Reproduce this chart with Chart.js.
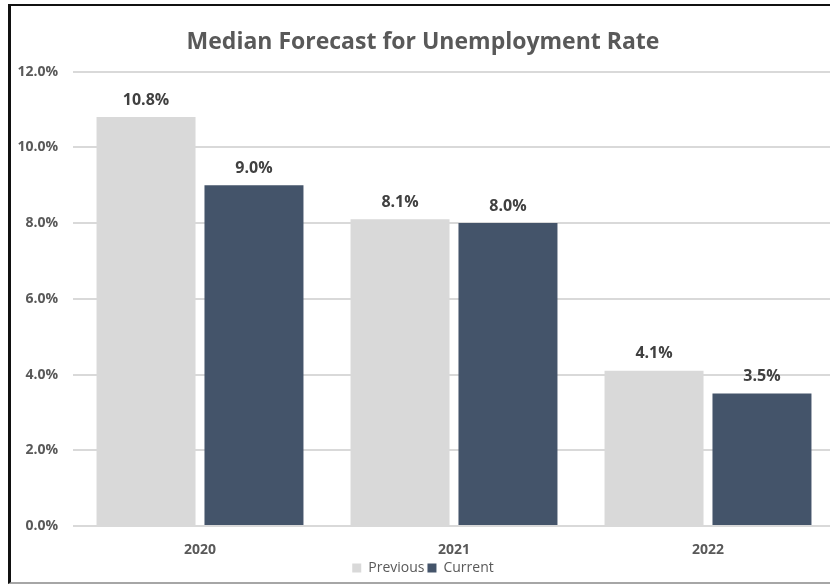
<!DOCTYPE html>
<html lang="en">

<head>
    <meta charset="UTF-8">
    <title>Median Forecast for Unemployment Rate</title>
    <style>
        body { margin: 0; overflow: hidden; background: #fff; }
        #frame {
            position: absolute; left: 8px; top: 4px;
            width: 840px; height: 576px; overflow: hidden;
            border-left: 3px solid #111; border-top: 2px solid #111; border-bottom: 2px solid #a6a6a6;
        }
    </style>
</head>

<body>
    <div id="frame">
        <canvas id="myChart" width="840" height="579"></canvas>
    </div>

    <script src="https://cdn.jsdelivr.net/npm/chart.js"></script>
    <script>
        // data
        const v_years = ['2020', '2021', '2022'];
        const v_previous = [10.8, 8.1, 4.1];
        const v_current = [9.0, 8.0, 3.5];
        const v_yTicks = [0, 2, 4, 6, 8, 10, 12];

        const v_text = '#595959';

        // value labels above each bar
        const labelPlugin = {
            id: 'barLabels',
            afterDatasetsDraw(chart) {
                const ctx = chart.ctx;
                ctx.save();
                ctx.font = 'bold 16px "Open Sans"';
                ctx.fillStyle = '#404040';
                ctx.textAlign = 'center';
                ctx.textBaseline = 'middle';
                chart.data.datasets.forEach((ds, i) => {
                    chart.getDatasetMeta(i).data.forEach((bar, k) => {
                        ctx.fillText(ds.data[k].toFixed(1) + '%', bar.x, bar.y - 17);
                    });
                });
                ctx.restore();
            }
        };

        const ctx = document.querySelector('#myChart');
        new Chart(ctx, {
            type: 'bar',
            data: {
                labels: v_years,
                datasets: [{
                    label: 'Previous',
                    data: v_previous,
                    backgroundColor: '#d9d9d9',
                    categoryPercentage: 0.85,
                    barPercentage: 0.917
                }, {
                    label: 'Current',
                    data: v_current,
                    backgroundColor: '#44546a',
                    categoryPercentage: 0.85,
                    barPercentage: 0.917
                }]
            },
            options: {
                responsive: false,
                animation: false,
                layout: { padding: { left: 0, right: 16, top: 0, bottom: 0 } },
                plugins: {
                    title: {
                        display: true,
                        text: 'Median Forecast for Unemployment Rate',
                        color: v_text,
                        font: { family: '"Open Sans"', size: 23, weight: 'bold' },
                        padding: { top: 23, bottom: 15 }
                    },
                    legend: {
                        position: 'bottom',
                        labels: {
                            color: v_text,
                            boxWidth: 9,
                            boxHeight: 9,
                            padding: 3,
                            font: { family: '"Open Sans"', size: 14 }
                        }
                    },
                    tooltip: { enabled: false }
                },
                scales: {
                    x: {
                        grid: { display: false, drawTicks: false },
                        border: { display: false },
                        afterFit: (axis) => { axis.height = 32; },
                        ticks: {
                            color: v_text,
                            padding: 16,
                            font: { family: '"Open Sans"', size: 14, weight: 'bold' }
                        }
                    },
                    y: {
                        min: 0,
                        max: 12,
                        afterBuildTicks: (axis) => { axis.ticks = v_yTicks.map(v => ({ value: v })); },
                        afterFit: (axis) => { axis.width = 62; },
                        grid: { color: '#d9d9d9', lineWidth: 2, drawTicks: false },
                        border: { display: false },
                        ticks: {
                            color: v_text,
                            padding: 15,
                            font: { family: '"Open Sans"', size: 14, weight: 'bold' },
                            callback: (v) => v.toFixed(1) + '%'
                        }
                    }
                }
            },
            plugins: [labelPlugin]
        });
    </script>

</body>

</html>
